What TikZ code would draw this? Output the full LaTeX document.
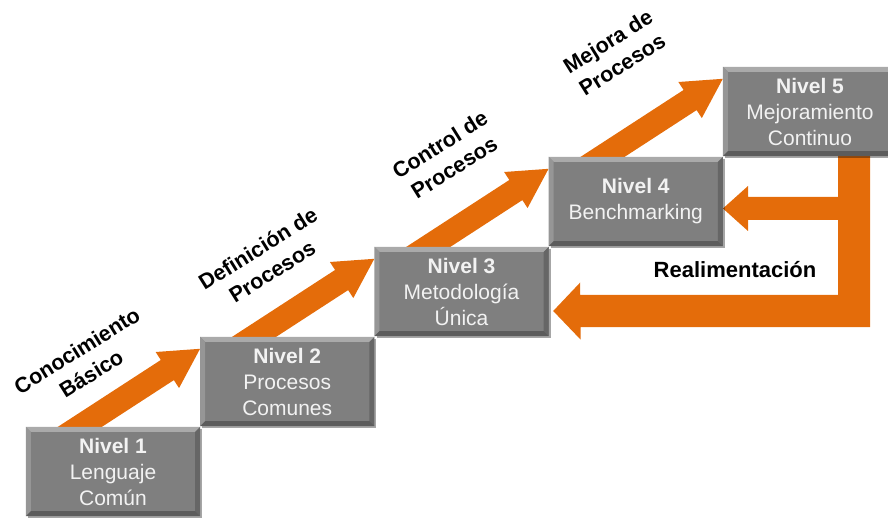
\documentclass[tikz,border=0pt]{standalone}
\usepackage{fontspec}
\setmainfont{Liberation Sans}
\usetikzlibrary{calc,shadows,backgrounds}

\definecolor{stepgray}{RGB}{127,127,127}
\definecolor{bevellight}{RGB}{170,170,170}
\definecolor{bevelmid}{RGB}{150,150,150}
\definecolor{beveldark}{RGB}{102,102,102}
\definecolor{bevelshade}{RGB}{92,92,92}
\definecolor{stairorange}{RGB}{228,108,10}
\definecolor{boxtext}{RGB}{242,242,242}

% Raised edges of a level box
\newcommand{\bevel}[1]{%
  \fill[bevellight] (#1.north west) -- (#1.north east) -- ++(-5,5) -- ($(#1.north west)+(5,5)$) -- cycle;
  \fill[bevelmid] (#1.north west) -- ($(#1.north west)+(5,5)$) -- ($(#1.south west)+(5,-5)$) -- (#1.south west) -- cycle;
  \fill[beveldark] (#1.north east) -- (#1.south east) -- ++(-5,-5) -- ($(#1.north east)+(-5,5)$) -- cycle;
  \fill[bevelshade] (#1.south west) -- (#1.south east) -- ++(-5,-5) -- ($(#1.south west)+(5,-5)$) -- cycle;}

% Thick slanted arrow ending at the given tip
\newcommand{\stairarrow}[1]{%
  \fill[stairorange,shift={(#1)},rotate=33]
    (0,0) -- (-39,-21.5) -- (-39,-12) -- (-170,-12) -- (-170,12) -- (-39,12) -- (-39,21.5) -- cycle;}

\begin{document}
\begin{tikzpicture}[x=1pt,y=-1pt,
  levelbox/.style={rectangle, minimum width=174pt, minimum height=89pt, inner sep=0pt,
    fill=stepgray, text=boxtext, align=center, font=\fontsize{21}{26}\selectfont,
    drop shadow={shadow xshift=2pt,shadow yshift=-2pt,opacity=0.35,fill=black}},
  stagelabel/.style={rotate=32, align=center, inner sep=0pt, text=black,
    font=\bfseries\fontsize{21.5}{27}\selectfont}]
\useasboundingbox (0,0) rectangle (888,518);

% the five levels
\node[levelbox] (n1) at (113,471.5)    {{\bfseries Nivel 1}\\Lenguaje\\Común};
\node[levelbox] (n2) at (287.25,381.5) {{\bfseries Nivel 2}\\Procesos\\Comunes};
\node[levelbox] (n3) at (461.5,291.5)  {{\bfseries Nivel 3}\\Metodología\\Única};
\node[levelbox] (n4) at (635.75,201.5) {{\bfseries Nivel 4}\\Benchmarking};
\node[levelbox] (n5) at (810,111.5)    {{\bfseries Nivel 5}\\Mejoramiento\\Continuo};
\foreach \n in {n1,n2,n3,n4,n5} {\bevel{\n}}

% arrow tips
\coordinate (t1) at ($(n2.north west)+(0,12)$);
\coordinate (t2) at ($(n3.north west)+(0,12)$);
\coordinate (t3) at ($(n4.north west)+(0,12)$);
\coordinate (t4) at ($(n5.north west)+(0,12)$);
\coordinate (tipA) at ($(n4.east)+(0,7)$);
\coordinate (tipB) at ($(n3.east)+(4.5,19.5)$);

\begin{pgfonlayer}{background}
  \stairarrow{t1}
  \stairarrow{t2}
  \stairarrow{t3}
  \stairarrow{t4}
  % feedback loop from level 5 back to levels 4 and 3
  \fill[stairorange] (tipB) -- ++(27,-28.5) -- ++(0,12.5) -- (838,295) -- (838,220)
    -- (748,220) -- (748,231) -- (tipA) -- (748,186) -- (748,197) -- (838,197)
    -- (838,140) -- (870,140) -- (870,327) -- (580.5,327) -- (580.5,339.5) -- cycle;
\end{pgfonlayer}

% stage labels
\node[stagelabel] (l1) at (84,362)  {Conocimiento\\Básico};
\node[stagelabel] (l2) at (265,260) {Definición de\\Procesos};
\node[stagelabel] (l3) at (447,156) {Control de\\Procesos};
\node[stagelabel] (l4) at (615,53)  {Mejora de\\Procesos};

\node[font=\bfseries\fontsize{22}{26}\selectfont] (fb) at (735,270) {Realimentación};
\end{tikzpicture}
\end{document}
